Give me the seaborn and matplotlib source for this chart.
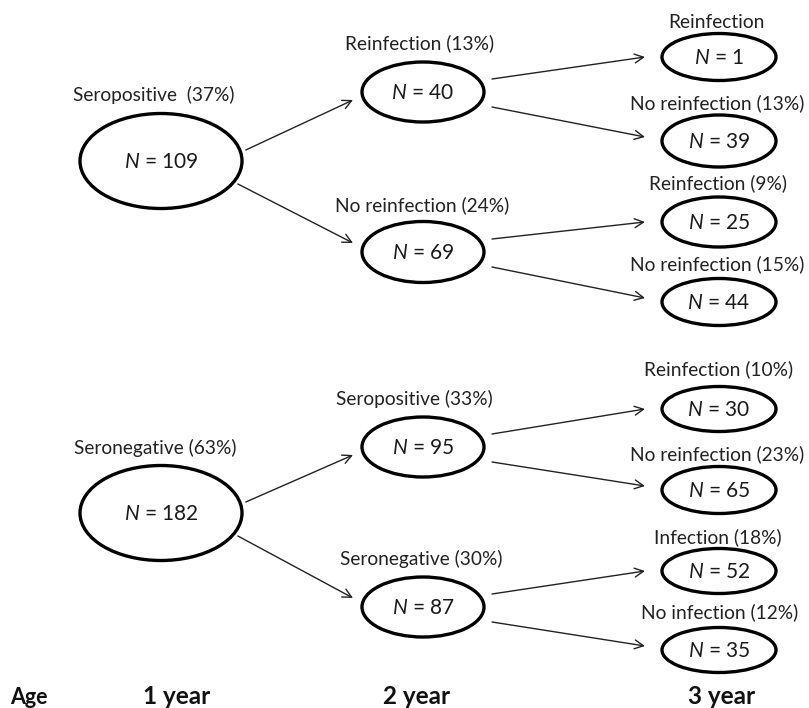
import matplotlib
matplotlib.use("Agg")
import matplotlib.pyplot as plt
from matplotlib.patches import Ellipse
import numpy as np
import seaborn as sns

# ---------------- data ----------------
age_labels = ["1 year", "2 year", "3 year"]

l1_labels = ["Seropositive  (37%)", "Seronegative (63%)"]
l1_n = [109, 182]

l2_labels = ["Reinfection (13%)", "No reinfection (24%)",
             "Seropositive (33%)", "Seronegative (30%)"]
l2_n = [40, 69, 95, 87]
l2_parent = [0, 0, 1, 1]

l3_labels = ["Reinfection", "No reinfection (13%)",
             "Reinfection (9%)", "No reinfection (15%)",
             "Reinfection (10%)", "No reinfection (23%)",
             "Infection (18%)", "No infection (12%)"]
l3_n = [1, 39, 25, 44, 30, 65, 52, 35]
l3_parent = [0, 0, 1, 1, 2, 2, 3, 3]

# ---------------- layout (pixel space) ----------------
col_x = [161, 423, 719]
col_w = [162, 122, 114]
l1_y = [161, 513]
l1_h = [95, 95]
l2_y = [92, 252, 447, 607]
l2_h = [60, 61, 60, 60]
l3_y = [57, 141, 222, 302, 409, 490, 571, 650]
l3_h = [47, 52, 50, 47, 45, 47, 45, 45]
l1_lab_y = [95, 448]
l1_lab_x = [154, 155]
l2_lab_y = [43, 205, 399, 559]
l2_lab_x = [420, 422, 414, 421]
l3_lab_y = [22, 103, 183, 264, 369, 454, 537, 612]
l3_lab_x = [716, 717, 718, 717, 719, 717, 718, 720]

sns.set_theme(style="white")
plt.rcParams['font.family'] = ['Lato', 'DejaVu Sans']
plt.rcParams['mathtext.fontset'] = 'custom'
plt.rcParams['mathtext.it'] = 'Lato:italic'
plt.rcParams['mathtext.rm'] = 'Lato'

fig = plt.figure(figsize=(8.09, 7.08), dpi=100)
ax = fig.add_axes([0, 0, 1, 1])
ax.set_xlim(0, 809)
ax.set_ylim(708, 0)
ax.set_axis_off()

lab_fs = 13.8
lw_ell = 2.4


def node(x, y, w, h, n, fs):
    ax.add_patch(Ellipse((x, y), w, h, fill=False, lw=lw_ell, ec="black"))
    ax.text(x, y + 1, f"$N$ = {n}", ha="center", va="center", fontsize=fs, color="#1a1a1a")


def arrow(x0, y0, x1, y1):
    ax.annotate("", xy=(x1, y1), xytext=(x0, y0),
                arrowprops=dict(arrowstyle="->", lw=1.0, color="#222222",
                                mutation_scale=16, shrinkA=0, shrinkB=0))

# level 1
for i in range(2):
    node(col_x[0], l1_y[i], col_w[0], l1_h[i], l1_n[i], 15)
    ax.text(l1_lab_x[i], l1_lab_y[i], l1_labels[i], ha="center", va="center",
            fontsize=lab_fs, color="#222222")

# level 2
for i in range(4):
    node(col_x[1], l2_y[i], col_w[1], l2_h[i], l2_n[i], 15)
    ax.text(l2_lab_x[i], l2_lab_y[i], l2_labels[i], ha="center", va="center",
            fontsize=lab_fs, color="#222222")
    p = l2_parent[i]
    up = l2_y[i] < l1_y[p]
    dy = -11 if up else 23
    ang = np.arcsin(min(abs(dy) / (l1_h[p] / 2), 0.99))
    x0 = col_x[0] + col_w[0] / 2 * np.cos(ang) + 6
    x1 = col_x[1] - col_w[1] / 2 - 9
    y1 = l2_y[i] + (8 if up else -9)
    arrow(x0, l1_y[p] + dy, x1, y1)

# level 3
for i in range(8):
    node(col_x[2], l3_y[i], col_w[2], l3_h[i], l3_n[i], 15)
    ax.text(l3_lab_x[i], l3_lab_y[i], l3_labels[i], ha="center", va="center",
            fontsize=lab_fs, color="#222222")
    p = l3_parent[i]
    up = l3_y[i] < l2_y[p]
    dy = -13 if up else 15
    x0 = col_x[1] + col_w[1] / 2 + 8
    x1 = col_x[2] - col_w[2] / 2 - 17
    y1 = l3_y[i] + (0 if up else -4)
    arrow(x0, l2_y[p] + dy, x1, y1)

# age row
ax.text(10, 697, "Age", ha="left", va="center", fontsize=15.5, fontweight="bold", color="#111111")
for x, t in zip([177, 417, 722], age_labels):
    ax.text(x, 697, t, ha="center", va="center", fontsize=17.5, fontweight="bold", color="#111111")

fig.savefig("out.png", dpi=100)
